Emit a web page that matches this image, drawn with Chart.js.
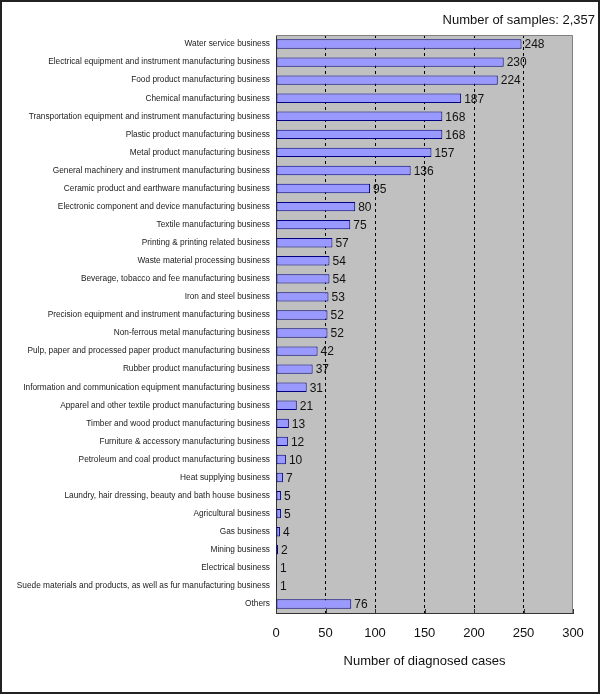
<!DOCTYPE html>
<html lang="en">
<head>
<meta charset="UTF-8">
<title>Number of diagnosed cases</title>
<script src="https://cdn.jsdelivr.net/npm/chart.js@4.4.7/dist/chart.umd.min.js"></script>
<style>
  * { margin: 0; padding: 0; box-sizing: border-box; }
  body { background: #fff; width: 600px; height: 694px; overflow: hidden; position: relative; }
  canvas { position: absolute; left: 0; top: 0; }
  .frame { position: absolute; left: 0; top: 0; width: 600px; height: 694px; border: 2px solid #222; pointer-events: none; }
</style>
</head>
<body>
<canvas id="barChart" width="600" height="694"></canvas>
<div class="frame"></div>
<script>
const categories = [
  'Water service business',
  'Electrical equipment and instrument manufacturing business',
  'Food product manufacturing business',
  'Chemical manufacturing business',
  'Transportation equipment and instrument manufacturing business',
  'Plastic product manufacturing business',
  'Metal product manufacturing business',
  'General machinery and instrument manufacturing business',
  'Ceramic product and earthware manufacturing business',
  'Electronic component and device manufacturing business',
  'Textile manufacturing business',
  'Printing & printing related business',
  'Waste material processing business',
  'Beverage, tobacco and fee manufacturing business',
  'Iron and steel business',
  'Precision equipment and instrument manufacturing business',
  'Non-ferrous metal manufacturing business',
  'Pulp, paper and processed paper product manufacturing business',
  'Rubber product manufacturing business',
  'Information and communication equipment manufacturing business',
  'Apparel and other textile product manufacturing business',
  'Timber and wood product manufacturing business',
  'Furniture & accessory manufacturing business',
  'Petroleum and coal product manufacturing business',
  'Heat supplying business',
  'Laundry, hair dressing, beauty and bath house business',
  'Agricultural business',
  'Gas business',
  'Mining business',
  'Electrical business',
  'Suede materials and products, as well as fur manufacturing business',
  'Others'
];
const cases = [248, 230, 224, 187, 168, 168, 157, 136, 95, 80, 75, 57, 54, 54, 53, 52, 52, 42, 37, 31, 21, 13, 12, 10, 7, 5, 5, 4, 2, 1, 1, 76];
const xTicks = [0, 50, 100, 150, 200, 250, 300];
const sampleNote = 'Number of samples: 2,357';
const xTitle = 'Number of diagnosed cases';

// gray plot area, inner tick marks, value labels and the sample count
const decor = {
  id: 'decor',
  beforeDraw(chart) {
    const { ctx, chartArea: a } = chart;
    ctx.save();
    ctx.fillStyle = '#c0c0c0';
    ctx.fillRect(a.left, a.top, a.right - a.left, a.bottom - a.top);
    ctx.restore();
  },
  afterDraw(chart) {
    const { ctx, chartArea: a } = chart;
    const xs = chart.scales.x;
    ctx.save();
    ctx.strokeStyle = '#808080';
    ctx.lineWidth = 1;
    ctx.beginPath();
    ctx.moveTo(a.left, a.top + 0.5);
    ctx.lineTo(a.right - 0.5, a.top + 0.5);
    ctx.lineTo(a.right - 0.5, a.bottom);
    ctx.stroke();

    // small tick marks pointing up from the x axis
    ctx.strokeStyle = '#333';
    ctx.beginPath();
    xTicks.forEach(v => {
      const px = Math.round(xs.getPixelForValue(v)) + 0.5;
      ctx.moveTo(px, a.bottom);
      ctx.lineTo(px, a.bottom - 4);
    });
    ctx.stroke();

    ctx.fillStyle = '#111';
    ctx.font = '12px "Liberation Sans", Arial, sans-serif';
    ctx.textBaseline = 'middle';
    chart.getDatasetMeta(0).data.forEach((bar, i) => {
      ctx.fillText(String(cases[i]), bar.x + 3, bar.y + 1);
    });

    ctx.font = '13px "Liberation Sans", Arial, sans-serif';
    ctx.textAlign = 'right';
    ctx.fillText(sampleNote, 595, 20);
    ctx.restore();
  }
};

new Chart(document.getElementById('barChart'), {
  type: 'bar',
  data: {
    labels: categories,
    datasets: [{
      data: cases,
      backgroundColor: '#9999ff',
      borderColor: '#000080',
      borderWidth: 1,
      borderSkipped: false,
      categoryPercentage: 1,
      barPercentage: 0.52
    }]
  },
  options: {
    indexAxis: 'y',
    responsive: false,
    animation: false,
    devicePixelRatio: 1,
    layout: { padding: { top: 35, right: 27, left: 0, bottom: 21 } },
    plugins: {
      legend: { display: false },
      tooltip: { enabled: false }
    },
    scales: {
      x: {
        min: 0,
        max: 300,
        afterBuildTicks(axis) { axis.ticks = xTicks.map(v => ({ value: v })); },
        afterFit(axis) { axis.height = 60; },
        ticks: {
          color: '#111',
          font: { size: 13, family: '"Liberation Sans", Arial, sans-serif' },
          padding: 13,
          maxRotation: 0
        },
        grid: {
          color: c => (c.tick && c.tick.value > 0 && c.tick.value < 300) ? '#000' : 'rgba(0,0,0,0)',
          drawTicks: false
        },
        border: { display: true, color: '#333', dash: [3, 3], width: 1 },
        title: {
          display: true,
          text: xTitle,
          color: '#111',
          font: { size: 13, family: '"Liberation Sans", Arial, sans-serif' },
          padding: { top: 4, bottom: 4 }
        }
      },
      y: {
        afterFit(axis) { axis.width = 276; },
        ticks: {
          color: '#222',
          font: { size: 8.3, family: '"Liberation Sans", Arial, sans-serif' },
          padding: 6,
          autoSkip: false
        },
        grid: { display: false, drawTicks: false },
        border: { display: true, color: '#333', width: 1 }
      }
    }
  },
  plugins: [decor]
});
</script>
</body>
</html>
